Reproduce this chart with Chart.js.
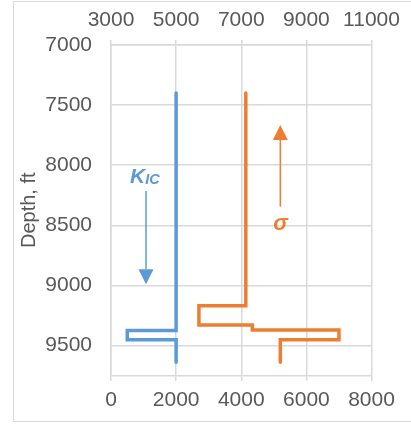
<!DOCTYPE html>
<html>
<head>
<meta charset="utf-8">
<script src="https://cdn.jsdelivr.net/npm/chart.js@4.4.1/dist/chart.umd.min.js"></script>
<style>
  body { margin: 0; background: #fff; }
  .frame {
    position: absolute; left: 13px; top: 1px; width: 420px; height: 421px;
    border: 1.5px solid #d9d9d9; box-sizing: border-box;
  }
  #chart { position: absolute; left: 0; top: 0; }
</style>
</head>
<body>
<div class="frame"></div>
<canvas id="chart" width="411" height="427"></canvas>
<script>
// K_IC profile (bottom axis) and stress profile (top axis), depth in ft
const kicValues = [2000, 2000, 500, 500, 2000, 2000];
const kicDepths = [7400, 9375, 9375, 9452, 9452, 9640];
const sigmaValues = [7140, 7140, 5700, 5700, 7340, 7340, 10000, 10000, 8200, 8200];
const sigmaDepths = [7400, 9170, 9170, 9330, 9330, 9372, 9372, 9452, 9452, 9640];

// axis ranges and tick labels
const depthRange = [7000, 9750];
const depthTicks = [7000, 7500, 8000, 8500, 9000, 9500];
const bottomTicks = [0, 2000, 4000, 6000, 8000];
const topTicks = [3000, 5000, 7000, 9000, 11000];

// annotation arrows: [x, depth from, depth to]
const kicArrow = [1075, 8215, 8990];
const sigmaArrow = [8200, 8345, 7665];
// annotation labels: [x, depth of baseline]
const kicLabel = [585, 8150];
const sigmaLabel = [8205, 8540];

const blue = "#5b9bd5";
const orange = "#ed7d31";
const textColor = "#595959";
const gridColor = "#d9d9d9";
const font = "'Liberation Sans', Arial, sans-serif";

function toPoints(xs, ys) {
  return xs.map((x, i) => ({ x: x, y: ys[i] }));
}

function fixedTicks(values) {
  return (axis) => {
    axis.ticks = values.map((v) => ({ value: v }));
  };
}

function drawArrow(ctx, x, y1, y2, color) {
  const dir = y2 > y1 ? 1 : -1;
  const head = 15;
  ctx.save();
  ctx.strokeStyle = color;
  ctx.fillStyle = color;
  ctx.lineWidth = 1.5;
  ctx.beginPath();
  ctx.moveTo(x, y1);
  ctx.lineTo(x, y2 - dir * head);
  ctx.stroke();
  ctx.beginPath();
  ctx.moveTo(x, y2);
  ctx.lineTo(x - 7.5, y2 - dir * head);
  ctx.lineTo(x + 7.5, y2 - dir * head);
  ctx.closePath();
  ctx.fill();
  ctx.restore();
}

const annotations = {
  id: "annotations",
  afterDatasetsDraw(chart) {
    const { ctx, scales } = chart;
    const y = scales.y;

    drawArrow(ctx, scales.x.getPixelForValue(kicArrow[0]),
      y.getPixelForValue(kicArrow[1]), y.getPixelForValue(kicArrow[2]), blue);
    drawArrow(ctx, scales.x2.getPixelForValue(sigmaArrow[0]),
      y.getPixelForValue(sigmaArrow[1]), y.getPixelForValue(sigmaArrow[2]), orange);

    ctx.save();
    ctx.textBaseline = "alphabetic";
    ctx.textAlign = "left";
    ctx.fillStyle = blue;
    let kx = scales.x.getPixelForValue(kicLabel[0]);
    const ky = y.getPixelForValue(kicLabel[1]);
    ctx.font = "italic bold 21px " + font;
    ctx.fillText("K", kx, ky);
    kx += ctx.measureText("K").width;
    ctx.font = "italic bold 14.5px " + font;
    ctx.fillText("IC", kx, ky + 1);

    ctx.fillStyle = orange;
    ctx.textAlign = "center";
    ctx.font = "italic bold 22px " + font;
    ctx.fillText("σ", scales.x2.getPixelForValue(sigmaLabel[0]), y.getPixelForValue(sigmaLabel[1]));
    ctx.restore();
  },
};

const tickFont = { family: font, size: 21 };
const plainLabel = (v) => String(v);

new Chart(document.getElementById("chart"), {
  type: "line",
  data: {
    datasets: [
      {
        label: "KIC",
        data: toPoints(kicValues, kicDepths),
        xAxisID: "x",
        borderColor: blue,
        borderWidth: 3.5,
        borderCapStyle: "round",
        borderJoinStyle: "miter",
        pointRadius: 0,
        tension: 0,
      },
      {
        label: "sigma",
        data: toPoints(sigmaValues, sigmaDepths),
        xAxisID: "x2",
        borderColor: orange,
        borderWidth: 3.5,
        borderCapStyle: "round",
        borderJoinStyle: "miter",
        pointRadius: 0,
        tension: 0,
      },
    ],
  },
  options: {
    responsive: false,
    animation: false,
    devicePixelRatio: 1,
    layout: { padding: { left: 0, right: 39.5, top: 0, bottom: 0 } },
    plugins: { legend: { display: false }, tooltip: { enabled: false } },
    scales: {
      x: {
        type: "linear",
        position: "bottom",
        min: bottomTicks[0],
        max: bottomTicks[bottomTicks.length - 1],
        afterBuildTicks: fixedTicks(bottomTicks),
        ticks: { color: textColor, font: tickFont, padding: 7, maxRotation: 0, autoSkip: false, callback: plainLabel },
        grid: { color: gridColor, lineWidth: 1.5, tickLength: 5.5, tickColor: gridColor },
        border: { color: gridColor, width: 1.5 },
        afterFit(axis) { axis.height = 51.5; },
      },
      x2: {
        type: "linear",
        position: "top",
        min: topTicks[0],
        max: topTicks[topTicks.length - 1],
        afterBuildTicks: fixedTicks(topTicks),
        ticks: { color: textColor, font: tickFont, padding: 7, maxRotation: 0, autoSkip: false, callback: plainLabel },
        grid: { drawOnChartArea: false, tickLength: 5, tickColor: gridColor, lineWidth: 1.5 },
        border: { color: gridColor, width: 1.5 },
        afterFit(axis) { axis.height = 45; },
      },
      y: {
        type: "linear",
        reverse: true,
        min: depthRange[0],
        max: depthRange[1],
        afterBuildTicks: fixedTicks(depthTicks),
        ticks: { color: textColor, font: tickFont, padding: 19, autoSkip: false, callback: plainLabel },
        grid: { color: gridColor, lineWidth: 1.5, drawTicks: false },
        border: { color: gridColor, width: 1.5 },
        title: {
          display: true,
          text: "Depth, ft",
          color: textColor,
          font: { family: font, size: 20 },
          padding: { top: 17, bottom: 0 },
        },
        afterFit(axis) { axis.width = 111; },
      },
    },
  },
  plugins: [annotations],
});
</script>
</body>
</html>
